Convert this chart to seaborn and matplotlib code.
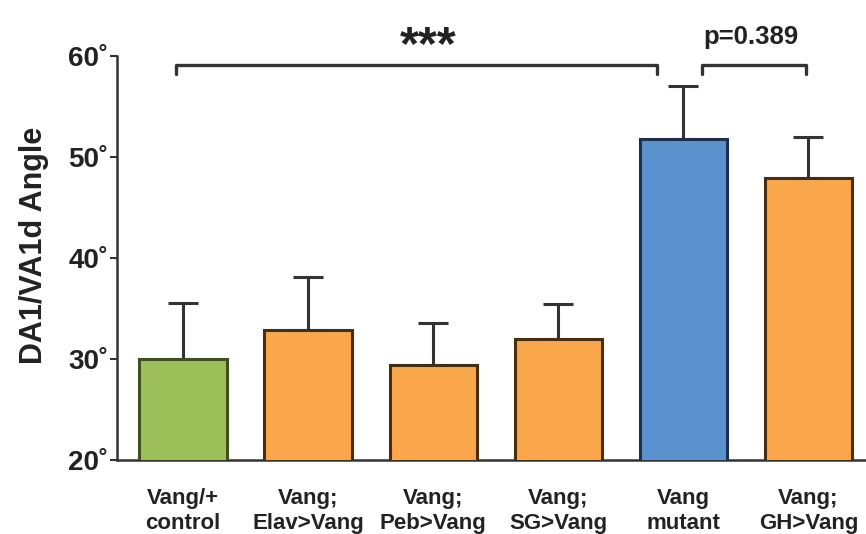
import matplotlib
matplotlib.use("Agg")
import matplotlib.pyplot as plt
import seaborn as sns
import numpy as np

categories = ["Vang/+\ncontrol", "Vang;\nElav>Vang", "Vang;\nPeb>Vang",
              "Vang;\nSG>Vang", "Vang\nmutant", "Vang;\nGH>Vang"]
means = [30.0, 32.8, 29.4, 32.0, 51.7, 47.9]
errors = [5.5, 5.3, 4.1, 3.4, 5.3, 4.0]
fills = ["#9DC05B", "#FAA74C", "#FAA74C", "#FAA74C", "#5B92CD", "#FAA74C"]
edges = ["#3E5220", "#4A2E0C", "#4A2E0C", "#4A2E0C", "#1B2F4F", "#4A2E0C"]
yticks = [20, 30, 40, 50, 60]

sns.set_style("white")
plt.rcParams["font.family"] = ["Liberation Sans", "DejaVu Sans"]

fig = plt.figure(figsize=(8.66, 5.34), dpi=100)
ax = fig.add_axes([0.135, 0.139, 0.865, 0.757])

sns.barplot(x=categories, y=means, hue=categories, palette=fills,
            saturation=1, width=0.7, legend=False, ax=ax, zorder=3,
            linewidth=2.2)
for patch, ec in zip(ax.patches, edges):
    patch.set_edgecolor(ec)

x = np.arange(len(categories))
ax.errorbar(x, means, yerr=[np.zeros(len(errors)), errors], fmt="none",
            ecolor="#333333", elinewidth=2.2, capsize=11, capthick=2.2,
            zorder=2)

ax.set_ylim(20, 60)
ax.set_xlim(-0.53, 5.46)
ax.set_yticks(yticks)
ax.set_yticklabels([f"{t}\u02da" for t in yticks], fontsize=20, fontweight="bold",
                   color="#222222")
ax.tick_params(axis="y", direction="out", length=5, width=1.5, color="#333333",
               left=True, pad=1)
ax.tick_params(axis="x", length=0, pad=20)
for lab in ax.get_xticklabels():
    lab.set_fontsize(16)
    lab.set_fontweight("bold")
    lab.set_color("#222222")
    lab.set_linespacing(1.3)
ax.set_ylabel("DA1/VA1d Angle", fontsize=22, fontweight="bold", color="#222222")
ax.yaxis.set_label_coords(-0.09, 0.53)
ax.set_xlabel("")

for side in ["top", "right"]:
    ax.spines[side].set_visible(False)
for side in ["left", "bottom"]:
    ax.spines[side].set_color("#333333")
    ax.spines[side].set_linewidth(1.8)

def bracket(x0, x1, y, h):
    ax.plot([x0, x0, x1, x1], [y - h, y, y, y - h], color="#333333", lw=2.4,
            clip_on=False, solid_joinstyle="round")

bracket(-0.06, 3.79, 59.1, 0.9)
bracket(4.15, 4.98, 59.1, 0.9)
ax.text(1.96, 59.7, "***", ha="center", va="baseline",
        fontsize=35, fontweight="bold", color="#222222", clip_on=False)
ax.text(4.54, 61.1, "p=0.389", ha="center", va="baseline",
        fontsize=18.5, fontweight="bold", color="#222222", clip_on=False)

fig.savefig("out.png", dpi=100)
